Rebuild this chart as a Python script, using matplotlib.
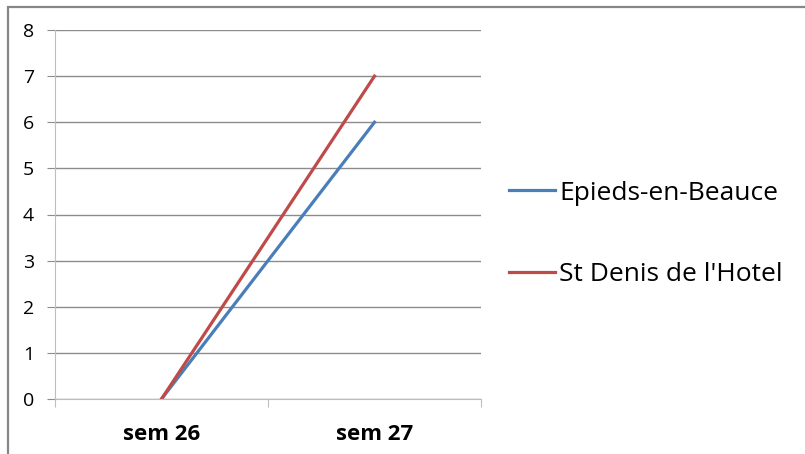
import matplotlib
matplotlib.use('Agg')
import matplotlib.pyplot as plt
from matplotlib.patches import Rectangle

plt.rcParams['font.family'] = ['Open Sans', 'DejaVu Sans']

# données
semaines = ['sem 26', 'sem 27']
epieds = [0, 6]
st_denis = [0, 7]

fig = plt.figure(figsize=(8.05, 4.54), dpi=100)
fig.patch.set_facecolor('white')

# cadre gris du graphique (coupé à droite et en bas)
fig.patches.append(Rectangle((8 / 805, -0.05), 1.0, (454 - 7) / 454 + 0.05,
                             transform=fig.transFigure, fill=False,
                             edgecolor='#868686', linewidth=1.6))

ax = fig.add_axes([55 / 805, 1 - 399 / 454, (481 - 55) / 805, (399 - 30) / 454])

x = [0.5, 1.5]
ax.plot(x, epieds, color='#4A7EBB', linewidth=2.3, label='Epieds-en-Beauce')
ax.plot(x, st_denis, color='#BE4B48', linewidth=2.3, label="St Denis de l'Hotel")

ax.set_xlim(0, 2)
ax.set_ylim(0, 8)
ax.set_yticks(range(0, 9))
ax.yaxis.grid(True, color='#8C8C8C', linewidth=1)
ax.set_axisbelow(True)

ax.set_xticks([0, 1, 2])
ax.set_xticklabels([])
ax.set_xticks(x, minor=True)
ax.set_xticklabels(semaines, minor=True, fontweight='bold', fontsize=16)
ax.tick_params(axis='x', which='minor', length=0, pad=18)
ax.tick_params(axis='x', which='major', length=6, color='#BEBEBE')
ax.tick_params(axis='y', length=6, color='#8C8C8C', labelsize=14, pad=9)

for s in ['top', 'right']:
    ax.spines[s].set_visible(False)
ax.spines['left'].set_color('#BEBEBE')
ax.spines['bottom'].set_color('#BEBEBE')

leg = fig.legend(loc='center left', bbox_to_anchor=(509 / 805, 1 - 234 / 454),
                 frameon=False, fontsize=19, handlelength=1.74, handletextpad=0.16,
                 labelspacing=2.15, borderpad=0, borderaxespad=0)

plt.savefig('out.png', dpi=100)
plt.close()
